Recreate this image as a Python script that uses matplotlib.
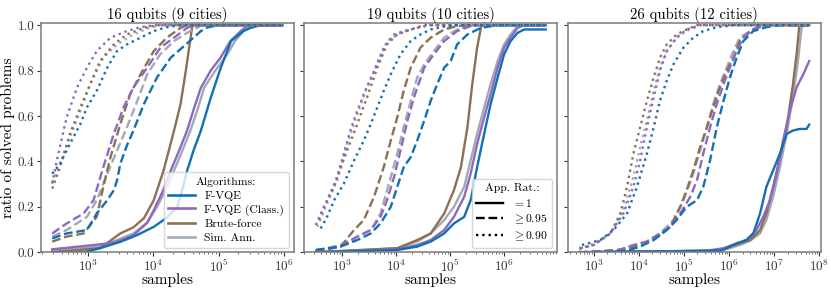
import numpy as np
import matplotlib
matplotlib.use("Agg")
import matplotlib.pyplot as plt
from matplotlib.lines import Line2D

plt.rcParams['font.family'] = 'serif'
plt.rcParams['font.serif'] = ['cmr10']
plt.rcParams['mathtext.fontset'] = 'cm'
plt.rcParams['axes.formatter.use_mathtext'] = True

# titles of the three panels
titles = ['16 qubits (9 cities)', '19 qubits (10 cities)', '26 qubits (12 cities)']
algorithms = ['F-VQE', 'F-VQE (Class.)', 'Brute-force', 'Sim. Ann.']
ratio_labels = [r'$=1$', r'$\geq 0.95$', r'$\geq 0.90$']

# each curve: (log10 samples, ratio of solved problems)
# ---- 16 qubits ----
q16_fvqe_1 = ([2.46, 2.94, 3.19, 3.50, 3.75, 4.01, 4.20, 4.37, 4.45, 4.52, 4.62, 4.73, 4.88, 5.03, 5.19, 5.38, 5.49, 5.64, 5.97],
              [0, 0, 0.018, 0.046, 0.075, 0.112, 0.15, 0.2, 0.28, 0.36, 0.45, 0.536, 0.68, 0.81, 0.93, 0.974, 0.988, 1.0, 1.0])
q16_class_1 = ([2.46, 3.19, 3.40, 3.70, 3.91, 4.01, 4.15, 4.27, 4.40, 4.52, 4.62, 4.73, 4.88, 5.03, 5.18, 5.34, 5.45, 5.97],
               [0.013, 0.035, 0.042, 0.075, 0.13, 0.185, 0.27, 0.36, 0.45, 0.536, 0.63, 0.725, 0.80, 0.857, 0.93, 0.974, 1.0, 1.0])
q16_brute_1 = ([2.46, 3.19, 3.50, 3.70, 3.86, 4.01, 4.16, 4.32, 4.42, 4.50, 4.55, 4.60, 5.97],
               [0, 0.018, 0.083, 0.11, 0.15, 0.229, 0.36, 0.536, 0.653, 0.80, 0.90, 1.0, 1.0])
q16_sa_1 = ([2.46, 3.19, 3.45, 3.70, 3.91, 4.06, 4.20, 4.32, 4.45, 4.57, 4.68, 4.78, 4.95, 5.13, 5.25, 5.38, 5.50, 5.97],
            [0.007, 0.025, 0.054, 0.083, 0.13, 0.2, 0.28, 0.36, 0.45, 0.536, 0.63, 0.725, 0.80, 0.87, 0.93, 0.974, 1.0, 1.0])
q16_fvqe_95 = ([2.46, 2.68, 2.99, 3.14, 3.30, 3.40, 3.45, 3.50, 3.60, 3.70, 3.86, 4.06, 4.27, 4.52, 4.73, 4.83, 5.00, 5.97],
               [0.061, 0.083, 0.098, 0.171, 0.229, 0.273, 0.317, 0.39, 0.47, 0.536, 0.653, 0.77, 0.857, 0.92, 0.974, 0.99, 1.0, 1.0])
q16_class_95 = ([2.46, 2.68, 2.94, 3.09, 3.24, 3.40, 3.55, 3.70, 3.91, 4.11, 4.32, 4.52, 4.62, 5.97],
                [0.083, 0.127, 0.171, 0.229, 0.375, 0.521, 0.638, 0.726, 0.813, 0.901, 0.945, 0.988, 1.0, 1.0])
q16_brute_95 = ([2.46, 2.68, 2.94, 3.14, 3.24, 3.35, 3.50, 3.65, 3.81, 4.01, 4.21, 4.42, 4.52, 5.97],
                [0.047, 0.069, 0.083, 0.156, 0.288, 0.419, 0.565, 0.696, 0.784, 0.886, 0.945, 0.988, 1.0, 1.0])
q16_sa_95 = ([2.46, 2.68, 2.99, 3.14, 3.30, 3.45, 3.60, 3.76, 3.91, 4.11, 4.32, 4.52, 4.72, 4.83, 5.97],
             [0.069, 0.098, 0.156, 0.229, 0.346, 0.448, 0.55, 0.667, 0.784, 0.872, 0.93, 0.966, 0.996, 1.0, 1.0])
q16_fvqe_90 = ([2.46, 2.58, 2.73, 2.89, 2.99, 3.14, 3.30, 3.45, 3.60, 3.81, 4.01, 4.21, 4.42, 5.97],
               [0.346, 0.39, 0.477, 0.565, 0.638, 0.711, 0.813, 0.886, 0.915, 0.945, 0.974, 0.991, 1.0, 1.0])
q16_class_90 = ([2.46, 2.53, 2.68, 2.84, 2.99, 3.14, 3.35, 3.60, 3.81, 4.01, 5.97],
                [0.302, 0.404, 0.594, 0.726, 0.813, 0.886, 0.945, 0.974, 0.991, 1.0, 1.0])
q16_brute_90 = ([2.46, 2.58, 2.73, 2.89, 3.04, 3.19, 3.40, 3.60, 3.86, 4.06, 5.97],
                [0.28, 0.375, 0.521, 0.638, 0.74, 0.842, 0.915, 0.959, 0.988, 1.0, 1.0])
q16_sa_90 = ([2.46, 2.58, 2.73, 2.89, 3.04, 3.24, 3.45, 3.70, 3.91, 4.11, 5.97],
             [0.309, 0.39, 0.507, 0.623, 0.74, 0.857, 0.915, 0.959, 0.985, 1.0, 1.0])

# ---- 19 qubits ----
q19_fvqe_1 = ([2.51, 4.02, 4.39, 4.64, 4.89, 5.07, 5.26, 5.38, 5.50, 5.63, 5.75, 5.88, 6.00, 6.12, 6.25, 6.37, 6.77],
              [0, 0.01, 0.025, 0.047, 0.083, 0.127, 0.156, 0.229, 0.375, 0.521, 0.653, 0.769, 0.872, 0.93, 0.966, 0.981, 0.981])
q19_class_1 = ([2.51, 4.02, 4.39, 4.64, 4.89, 5.07, 5.26, 5.38, 5.50, 5.63, 5.75, 5.88, 6.00, 6.12, 6.25, 6.37, 6.77],
               [0, 0.013, 0.032, 0.054, 0.098, 0.156, 0.244, 0.346, 0.477, 0.594, 0.696, 0.813, 0.901, 0.945, 0.988, 1.0, 1.0])
q19_brute_1 = ([2.51, 4.02, 4.39, 4.64, 4.89, 5.07, 5.20, 5.32, 5.41, 5.50, 5.58, 6.77],
               [0, 0.018, 0.054, 0.083, 0.171, 0.273, 0.375, 0.55, 0.74, 0.901, 1.0, 1.0])
q19_sa_1 = ([2.51, 4.02, 4.39, 4.64, 4.89, 5.07, 5.26, 5.38, 5.50, 5.63, 5.75, 5.88, 6.00, 6.12, 6.25, 6.37, 6.77],
            [0, 0.018, 0.047, 0.083, 0.142, 0.2, 0.288, 0.404, 0.521, 0.638, 0.74, 0.842, 0.915, 0.959, 0.996, 1.0, 1.0])
q19_fvqe_95 = ([2.51, 2.97, 3.28, 3.53, 3.71, 3.90, 4.02, 4.14, 4.27, 4.39, 4.52, 4.64, 4.76, 4.89, 5.01, 5.13, 5.32, 5.57, 5.88, 6.77],
               [0.01, 0.025, 0.054, 0.083, 0.127, 0.2, 0.288, 0.375, 0.419, 0.492, 0.58, 0.667, 0.74, 0.813, 0.842, 0.915, 0.959, 0.988, 1.0, 1.0])
q19_class_95 = ([2.51, 2.97, 3.28, 3.53, 3.71, 3.83, 3.96, 4.08, 4.21, 4.33, 4.52, 4.70, 4.89, 5.13, 5.38, 5.57, 6.77],
                [0.01, 0.025, 0.069, 0.098, 0.156, 0.229, 0.331, 0.448, 0.58, 0.682, 0.813, 0.872, 0.93, 0.974, 0.996, 1.0, 1.0])
q19_brute_95 = ([2.51, 2.97, 3.22, 3.40, 3.59, 3.77, 3.90, 4.02, 4.14, 4.27, 4.45, 4.64, 4.89, 5.13, 5.32, 6.77],
                [0.003, 0.025, 0.098, 0.142, 0.244, 0.375, 0.492, 0.594, 0.711, 0.813, 0.901, 0.945, 0.981, 0.996, 1.0, 1.0])
q19_sa_95 = ([2.51, 2.97, 3.28, 3.53, 3.71, 3.90, 4.02, 4.14, 4.27, 4.39, 4.52, 4.70, 4.89, 5.13, 5.38, 6.77],
             [0.007, 0.032, 0.069, 0.098, 0.171, 0.331, 0.434, 0.55, 0.667, 0.769, 0.828, 0.886, 0.945, 0.981, 1.0, 1.0])
q19_fvqe_90 = ([2.60, 2.72, 2.85, 3.03, 3.22, 3.40, 3.53, 3.65, 3.77, 3.90, 4.08, 4.27, 4.45, 4.64, 4.89, 5.13, 6.77],
               [0.105, 0.156, 0.229, 0.302, 0.404, 0.492, 0.565, 0.638, 0.711, 0.784, 0.872, 0.93, 0.959, 0.981, 0.994, 1.0, 1.0])
q19_class_90 = ([2.51, 2.66, 2.85, 3.03, 3.15, 3.28, 3.40, 3.59, 3.77, 3.96, 4.14, 4.39, 4.64, 6.77],
                [0.12, 0.2, 0.288, 0.434, 0.536, 0.623, 0.696, 0.799, 0.901, 0.959, 0.974, 0.988, 1.0, 1.0])
q19_brute_90 = ([2.57, 2.72, 2.91, 3.09, 3.28, 3.46, 3.65, 3.83, 4.02, 4.27, 4.52, 6.77],
                [0.142, 0.229, 0.331, 0.448, 0.565, 0.682, 0.813, 0.915, 0.959, 0.981, 1.0, 1.0])
q19_sa_90 = ([2.54, 2.72, 2.91, 3.09, 3.28, 3.46, 3.65, 3.83, 4.08, 4.33, 4.58, 6.77],
             [0.112, 0.215, 0.317, 0.477, 0.609, 0.726, 0.828, 0.93, 0.966, 0.985, 1.0, 1.0])

# ---- 26 qubits ----
q26_fvqe_1 = ([2.68, 5.80, 5.95, 6.17, 6.39, 6.54, 6.69, 6.83, 6.98, 7.13, 7.28, 7.42, 7.57, 7.72, 7.78],
              [0, 0.007, 0.018, 0.039, 0.054, 0.083, 0.171, 0.288, 0.361, 0.434, 0.521, 0.536, 0.543, 0.543, 0.562])
q26_class_1 = ([2.68, 5.51, 5.88, 6.17, 6.39, 6.61, 6.76, 6.91, 7.06, 7.20, 7.35, 7.50, 7.65, 7.78],
               [0, 0.007, 0.018, 0.039, 0.054, 0.098, 0.156, 0.229, 0.346, 0.492, 0.623, 0.726, 0.784, 0.842])
q26_brute_1 = ([2.68, 5.80, 6.02, 6.24, 6.47, 6.69, 6.83, 6.98, 7.13, 7.28, 7.42, 7.50, 7.56, 7.57, 7.78],
               [0, 0.007, 0.025, 0.039, 0.054, 0.098, 0.171, 0.288, 0.419, 0.55, 0.74, 0.872, 0.996, 1.0, 1.0])
q26_sa_1 = ([2.68, 5.80, 6.02, 6.24, 6.47, 6.69, 6.83, 6.98, 7.13, 7.28, 7.42, 7.53, 7.61, 7.65, 7.78],
            [0, 0.007, 0.018, 0.032, 0.051, 0.083, 0.142, 0.244, 0.375, 0.521, 0.682, 0.842, 0.988, 1.0, 1.0])
q26_fvqe_95 = ([2.68, 3.44, 3.74, 4.03, 4.33, 4.62, 4.84, 5.06, 5.29, 5.43, 5.58, 5.73, 5.88, 6.02, 6.17, 6.32, 6.54, 6.83, 7.13, 7.78],
               [0, 0.003, 0.007, 0.025, 0.054, 0.098, 0.142, 0.2, 0.229, 0.288, 0.404, 0.55, 0.667, 0.769, 0.857, 0.93, 0.974, 0.991, 1.0, 1.0])
q26_class_95 = ([2.68, 3.52, 3.88, 4.18, 4.47, 4.70, 4.92, 5.14, 5.29, 5.43, 5.58, 5.73, 5.88, 6.02, 6.17, 6.32, 6.54, 6.83, 7.78],
                [0, 0.007, 0.032, 0.047, 0.083, 0.112, 0.171, 0.244, 0.317, 0.434, 0.55, 0.653, 0.74, 0.813, 0.886, 0.945, 0.981, 1.0, 1.0])
q26_brute_95 = ([2.68, 3.52, 3.88, 4.18, 4.47, 4.70, 4.92, 5.06, 5.21, 5.36, 5.51, 5.65, 5.80, 5.95, 6.10, 6.24, 6.47, 6.76, 7.78],
                [0, 0.01, 0.025, 0.047, 0.076, 0.112, 0.2, 0.273, 0.361, 0.463, 0.55, 0.638, 0.726, 0.799, 0.857, 0.93, 0.974, 1.0, 1.0])
q26_sa_95 = ([2.68, 3.52, 3.88, 4.18, 4.47, 4.77, 4.99, 5.21, 5.36, 5.51, 5.65, 5.80, 5.95, 6.10, 6.24, 6.47, 6.69, 7.78],
             [0, 0.007, 0.025, 0.047, 0.083, 0.142, 0.229, 0.346, 0.448, 0.55, 0.653, 0.74, 0.813, 0.886, 0.945, 0.974, 1.0, 1.0])
q26_fvqe_90 = ([2.74, 3.15, 3.44, 3.74, 3.96, 4.18, 4.33, 4.47, 4.62, 4.77, 4.99, 5.21, 5.43, 5.73, 6.10, 7.78],
               [0.032, 0.054, 0.098, 0.171, 0.288, 0.434, 0.55, 0.667, 0.755, 0.828, 0.901, 0.945, 0.974, 0.991, 1.0, 1.0])
q26_class_90 = ([2.71, 3.00, 3.37, 3.66, 3.88, 4.03, 4.18, 4.33, 4.47, 4.62, 4.84, 5.06, 5.36, 7.78],
                [0.018, 0.032, 0.083, 0.171, 0.288, 0.404, 0.55, 0.682, 0.799, 0.886, 0.945, 0.981, 1.0, 1.0])
q26_brute_90 = ([2.68, 3.00, 3.37, 3.59, 3.74, 3.88, 4.03, 4.18, 4.33, 4.47, 4.62, 4.84, 5.06, 5.29, 7.78],
                [0.018, 0.032, 0.083, 0.171, 0.288, 0.434, 0.55, 0.667, 0.769, 0.857, 0.915, 0.959, 0.981, 1.0, 1.0])
q26_sa_90 = ([2.68, 3.00, 3.37, 3.66, 3.88, 4.03, 4.18, 4.33, 4.47, 4.62, 4.84, 5.06, 5.36, 7.78],
             [0.01, 0.039, 0.083, 0.185, 0.331, 0.463, 0.58, 0.711, 0.813, 0.886, 0.945, 0.974, 1.0, 1.0])

panels = [
    [[q16_fvqe_1, q16_fvqe_95, q16_fvqe_90], [q16_class_1, q16_class_95, q16_class_90],
     [q16_brute_1, q16_brute_95, q16_brute_90], [q16_sa_1, q16_sa_95, q16_sa_90]],
    [[q19_fvqe_1, q19_fvqe_95, q19_fvqe_90], [q19_class_1, q19_class_95, q19_class_90],
     [q19_brute_1, q19_brute_95, q19_brute_90], [q19_sa_1, q19_sa_95, q19_sa_90]],
    [[q26_fvqe_1, q26_fvqe_95, q26_fvqe_90], [q26_class_1, q26_class_95, q26_class_90],
     [q26_brute_1, q26_brute_95, q26_brute_90], [q26_sa_1, q26_sa_95, q26_sa_90]],
]

colors = ['#1170b3', '#8c69c0', '#8d7053', '#a1a9b8']
styles = ['-', '--', ':']
draw_order = [3, 2, 1, 0]

fig, axes = plt.subplots(1, 3, figsize=(8.31, 2.88), dpi=100, sharey=True)
fig.subplots_adjust(left=0.049, right=0.9876, bottom=0.124, top=0.919, wspace=0.042)

for ax, title, curves in zip(axes, titles, panels):
    for ls_i in range(3):
        for a in draw_order:
            lx, ly = curves[a][ls_i]
            ax.plot(10 ** np.array(lx), ly, color=colors[a], ls=styles[ls_i], lw=1.7)
    ax.set_xscale('log')
    ax.set_ylim(0, 1.008)
    ax.set_title(title, fontsize=10.6, pad=2)
    ax.set_xlabel('samples', fontsize=11, labelpad=-1)
    ax.tick_params(labelsize=9.5, colors='#333333', length=3, width=0.8, pad=1.5)
    ax.tick_params(which='minor', length=1.5, width=0.6, colors='#555555')
    for s in ax.spines.values():
        s.set_color('#7a7a7a')
        s.set_linewidth(1.1)

axes[0].set_yticks([0, 0.2, 0.4, 0.6, 0.8, 1.0])
axes[0].set_yticklabels(['0.0', '0.2', '0.4', '0.6', '0.8', '1.0'])
axes[0].set_ylabel('ratio of solved problems', fontsize=11, labelpad=2)

alg_handles = [Line2D([], [], color=c, lw=1.9) for c in colors]
axes[0].legend(alg_handles, algorithms, title='Algorithms:', loc='lower right',
               fontsize=8.4, title_fontsize=8.4, handlelength=2.3, labelspacing=0.3,
               borderaxespad=0.4)
rat_handles = [Line2D([], [], color='black', lw=1.7, ls=s) for s in styles]
axes[1].legend(rat_handles, ratio_labels, title='App. Rat.:', loc='lower right',
               fontsize=8.4, title_fontsize=8.4, handlelength=2.3, labelspacing=0.3,
               borderaxespad=0.4)

fig.savefig('out.png', dpi=100)
